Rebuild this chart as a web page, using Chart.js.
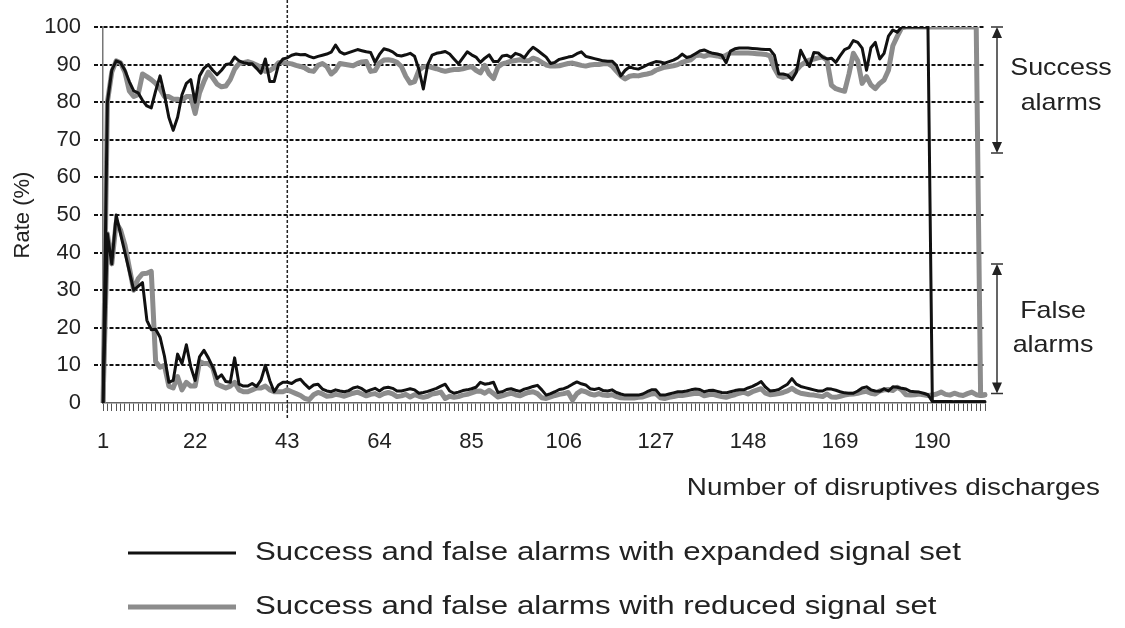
<!DOCTYPE html>
<html>
<head>
<meta charset="utf-8">
<title>Success and false alarms</title>
<script src="https://cdn.jsdelivr.net/npm/chart.js@4.4.1/dist/chart.umd.min.js"></script>
<style>
    html, body { margin: 0; padding: 0; background: #fff; }
</style>
</head>
<body>
<canvas id="alarmChart" width="1125" height="628"></canvas>
<script>
// Discharge numbers on the x axis (1..202) and the ones that get a label
const categories = Array.from({ length: 202 }, (_, i) => i + 1);
const tickLabels = [1, 22, 43, 64, 85, 106, 127, 148, 169, 190];

// Success alarm rate (%) - expanded signal set
const successExpanded = [
    0, 80, 88.5, 91, 90.5, 88.5, 85.5, 83, 82.5, 80.5,
    79, 78.5, 83, 87, 82, 76, 72.5, 76, 82, 85,
    86, 80, 87, 89, 90, 88.5, 87.3, 88.5, 90, 90.2,
    92, 91, 90.5, 90.3, 90.2, 89, 87.7, 91.5, 85.5, 85.5,
    90, 91.5, 91.8, 92.5, 92.8, 92.6, 92.7, 92.2, 91.8, 92.2,
    92.5, 92.8, 93.3, 95.2, 93.4, 92.8, 93.2, 93.6, 94, 93.7,
    93.4, 93.2, 90.6, 92.7, 94.2, 93.9, 93.4, 92.5, 92.3, 92.6,
    93, 92.2, 88.7, 83.5, 90, 92.5, 93, 93.2, 93.5, 92.8,
    91.5, 90.2, 91.8, 93.4, 92.6, 92, 90.6, 91.7, 92.6, 90.8,
    90.8, 92.3, 92.5, 91.9, 93, 92.6, 91.8, 93.4, 94.6, 93.8,
    92.9, 92, 90.3, 90.6, 91.4, 91.7, 92, 92.2, 92.9, 93.4,
    92.2, 91.9, 91.6, 91.3, 91, 90.9, 90.9, 89.8, 87, 88.5,
    89.4, 89, 88.8, 89.3, 89.9, 90.4, 90.8, 90.7, 90.4, 90.8,
    91.2, 91.8, 92.8, 91.9, 92.2, 92.9, 93.6, 93.9, 93.4, 93,
    92.8, 92.5, 90.5, 93.6, 94.2, 94.4, 94.4, 94.4, 94.3, 94.2,
    94.1, 94, 94, 92.5, 87.5, 87.5, 87.2, 86, 88, 93.8,
    91.5, 89.5, 93.2, 93.1, 92, 91.5, 91.7, 90.6, 92.4, 94,
    94.5, 96.4, 95.9, 94.4, 88.5, 94.5, 95.9, 91.5, 93, 97.6,
    99.2, 98.6, 100, 100, 100, 100, 100, 100, 100, 0.5,
    0.4, 0.4, 0.4, 0.4, 0.3, 0.3, 0.3, 0.3, 0.3, 0.3,
    0.3, 0.3
];

// Success alarm rate (%) - reduced signal set
const successReduced = [
    0, 80, 88, 91, 90.5, 88, 83, 81.5, 82, 87.5,
    86.8, 86, 85, 83.5, 81.5, 81.5, 80.8, 80.8, 80.5, 81.5,
    81.5, 77, 82.5, 85.5, 88, 86.5, 84.8, 84.1, 84.3, 86,
    88.8, 90.3, 90.5, 90.8, 90.4, 89.9, 89.3, 88.2, 88.4, 89.2,
    90.5, 90.6, 90.4, 90.2, 89.8, 89.5, 89.1, 88.4, 88.2, 89.8,
    90.3, 89.5, 87.5, 88.5, 90.3, 90.1, 89.9, 89.7, 90.3, 90.7,
    90.8, 88.2, 88.4, 90.4, 91.2, 91.3, 91.1, 90.6, 89.5, 86.9,
    85.1, 85.5, 88.5, 89.4, 89.6, 89.2, 88.9, 88.5, 88.2, 88.5,
    88.7, 88.7, 88.9, 89.2, 89.5, 88.5, 87.8, 89.8, 87.5, 86.3,
    89.4, 90.2, 90.5, 90.9, 91.1, 91.3, 91.1, 91, 91.7, 91.3,
    90.6, 89.9, 89.6, 89.6, 89.7, 90, 90.3, 90.4, 90.1, 89.8,
    89.6, 89.9, 90, 90, 90.2, 90.3, 89.6, 88.3, 87, 86.2,
    86.9, 87.1, 87, 87.3, 87.5, 87.8, 88.5, 88.9, 89.3, 89.5,
    89.7, 90, 90.6, 91, 91.3, 92.4, 92.5, 92.2, 92.6, 92.5,
    92.3, 92, 92.5, 93.1, 93.1, 93.1, 93.1, 93.1, 93, 92.9,
    92.8, 92.7, 92.3, 89, 87, 86.6, 86.8, 87.5, 88.5, 89.8,
    90.6, 91.2, 91.5, 91.8, 92, 91.2, 84.5, 83.6, 83.2, 82.9,
    87.5, 93, 91, 85, 86.8, 84.6, 83.6, 85, 85.9, 88.5,
    95, 97.5, 99.8, 100, 100, 100, 100, 100, 100, 100,
    100, 100, 100, 100, 100, 100, 100, 100, 100, 100,
    2, 2.2
];

// False alarm rate (%) - expanded signal set
const falseExpanded = [
    0, 45, 37, 50, 45, 40, 35, 30, 31, 32,
    22, 19.5, 19.6, 17.5, 12.5, 5.5, 6, 13, 10.5, 15.5,
    9.6, 6, 12.3, 14, 12, 9.6, 6.5, 7.5, 5.7, 5.5,
    12, 5, 4.5, 4.5, 5.2, 4.4, 6.1, 10, 6, 3,
    4.8, 5.5, 5.5, 5.2, 6, 6.3, 5, 3.9, 4.8, 5,
    3.7, 3.2, 3, 3.5, 3.2, 3, 3.3, 4, 4.3, 3.8,
    3, 3.5, 3.9, 3.2, 4, 4.2, 3.9, 3.2, 3.2, 3.5,
    3.8, 3.5, 2.6, 2.8, 3.1, 3.5, 3.9, 4.5, 5, 3.2,
    2.6, 2.9, 3.3, 3.5, 3.8, 4.2, 5.5, 5, 5.2, 5.5,
    2.8, 3, 3.6, 3.8, 3.4, 3.1, 3.7, 4, 4.4, 4.7,
    3.5, 2.1, 2.5, 3, 3.6, 3.8, 4.3, 5, 5.6, 5.1,
    4.8, 3.8, 3.6, 3.9, 3.3, 3.2, 3.5, 2.8, 2.4, 2.1,
    2.1, 2.1, 2.1, 2.4, 3, 3.5, 3.5, 2.1, 2.1, 2.4,
    2.7, 3, 3, 3.2, 3.5, 3.7, 3.6, 3, 3.3, 3.4,
    3.1, 2.8, 2.7, 3, 3.3, 3.5, 3.5, 4, 4.4, 5,
    5.7, 4.2, 3.2, 3.3, 3.6, 4.3, 5, 6.5, 5, 4.4,
    4.1, 3.8, 3.5, 3.2, 3.2, 3.8, 3.7, 3.4, 3, 2.7,
    2.6, 2.6, 3.2, 4, 4.3, 3.5, 3.2, 3.1, 3.8, 3.2,
    4.3, 4.2, 3.9, 3.7, 3.1, 3, 2.9, 2.6, 2.2, 0.4,
    0.4, 0.4, 0.4, 0.4, 0.3, 0.3, 0.3, 0.3, 0.3, 0.3,
    0.3, 0.3
];

// False alarm rate (%) - reduced signal set
const falseReduced = [
    0, 45, 37, 48, 46, 42, 36, 30, 33, 34.4,
    34.5, 35, 11, 9.5, 10, 4.5, 4, 7, 3.5, 5.5,
    4.5, 4.5, 11, 10.5, 10.5, 9.5, 5, 4.5, 4, 4.5,
    5.5, 3.5, 3, 3, 3.5, 4, 4, 4.5, 3.5, 3,
    3, 3, 3.5, 3, 2.5, 2, 1.2, 0.9, 2.2, 2.8,
    2.4, 1.8, 1.9, 2.3, 2.1, 1.8, 2.2, 2.6, 2.9, 2.4,
    1.9, 2.3, 2.5, 1.9, 2.5, 2.8, 2.4, 1.7, 1.9, 2.3,
    1.6, 2.2, 1.8, 1.5, 1.8, 2.4, 2.6, 2.9, 1.2, 1.8,
    1.5, 1.7, 2.1, 2.3, 2.7, 3.1, 3.2, 2.6, 3.4, 2.5,
    1.6, 1.9, 2.3, 2.6, 2.2, 1.9, 2.4, 2.8, 3, 2.5,
    1.4, 1.2, 1.6, 2, 2.3, 2.5, 2.8, 0.8, 2.5, 3.3,
    3, 2.4, 2.1, 2.5, 2.1, 2, 2.2, 1.7, 1.4, 1.3,
    1.4, 1.3, 1.5, 1.6, 2, 2.4, 2.5, 1.4, 1.2, 1.5,
    1.7, 2, 2, 2.2, 2.4, 2.6, 2.5, 1.9, 2.2, 2.3,
    2, 1.7, 1.5, 1.9, 2.2, 2.6, 2.9, 2.4, 3, 3.4,
    3.8, 2.6, 2.2, 2.3, 2.5, 2.8, 3.2, 3.9, 3.1, 2.6,
    2.4, 2.2, 2.1, 1.9, 1.7, 2.4, 1.6, 1.5, 1.8, 2.1,
    2.3, 2.4, 2.6, 2.9, 3.1, 2.6, 2.4, 3.2, 3.5, 3.6,
    3.3, 4.2, 3.5, 2.2, 2.1, 2.2, 2.4, 2.2, 2, 2.1,
    2.4, 2.9, 2.3, 2.1, 2.6, 2.2, 2, 2.5, 2.9, 2.2,
    2, 2.2
];

const legendLabels = [
    'Success and false alarms with expanded signal set',
    'Success and false alarms with reduced signal set'
];
const markerDischarge = 43;        // dashed vertical marker
const successSpan = [100, 66.5];   // arrow span for "Success alarms"
const falseSpan = [37, 2.5];       // arrow span for "False alarms"

const FONT = '"Liberation Sans", Arial, sans-serif';
const TEXT = '#222';
const BLACK = '#111';
const GREY = '#8c8c8c';

// The reference lettering is a bit wider than Liberation Sans, so stretch it sideways
function wideText(ctx, text, x, y, size, stretch, align) {
    ctx.save();
    ctx.font = size + 'px ' + FONT;
    ctx.textAlign = align;
    ctx.textBaseline = 'middle';
    ctx.translate(x, y);
    ctx.scale(stretch, 1);
    ctx.fillText(text, 0, 0);
    ctx.restore();
}

// Vertical double arrow with small end caps
function drawDoubleArrow(ctx, x, yTop, yBottom) {
    ctx.save();
    ctx.strokeStyle = '#333';
    ctx.fillStyle = '#222';
    ctx.lineWidth = 1.5;
    ctx.beginPath();
    ctx.moveTo(x, yTop + 4);
    ctx.lineTo(x, yBottom - 4);
    ctx.moveTo(x - 6, yTop);
    ctx.lineTo(x + 6, yTop);
    ctx.moveTo(x - 6, yBottom);
    ctx.lineTo(x + 6, yBottom);
    ctx.stroke();
    ctx.beginPath(); // top head
    ctx.moveTo(x, yTop);
    ctx.lineTo(x - 5, yTop + 11);
    ctx.lineTo(x + 5, yTop + 11);
    ctx.closePath();
    ctx.fill();
    ctx.beginPath(); // bottom head
    ctx.moveTo(x, yBottom);
    ctx.lineTo(x - 5, yBottom - 11);
    ctx.lineTo(x + 5, yBottom - 11);
    ctx.closePath();
    ctx.fill();
    ctx.restore();
}

const overlayPlugin = {
    id: 'overlay',
    beforeDatasetsDraw(chart) {
        const { ctx, chartArea, scales: { x } } = chart;
        const px = x.getPixelForValue(categories.indexOf(markerDischarge));
        ctx.save();
        ctx.strokeStyle = '#222';
        ctx.lineWidth = 1.5;
        ctx.setLineDash([3, 2]);
        ctx.beginPath();
        ctx.moveTo(px, 0);
        ctx.lineTo(px, chartArea.bottom + 16);
        ctx.stroke();
        ctx.restore();
    },
    afterDraw(chart) {
        const { ctx, chartArea, scales: { y } } = chart;
        const arrowX = chartArea.right + 12;
        drawDoubleArrow(ctx, arrowX, y.getPixelForValue(successSpan[0]), y.getPixelForValue(successSpan[1]));
        drawDoubleArrow(ctx, arrowX, y.getPixelForValue(falseSpan[0]), y.getPixelForValue(falseSpan[1]));

        ctx.save();
        ctx.fillStyle = TEXT;
        wideText(ctx, 'Success', chartArea.right + 76, y.getPixelForValue(89.1), 24, 1.12, 'center');
        wideText(ctx, 'alarms', chartArea.right + 76, y.getPixelForValue(79.8), 24, 1.12, 'center');
        wideText(ctx, 'False', chartArea.right + 68, y.getPixelForValue(24.3), 24, 1.12, 'center');
        wideText(ctx, 'alarms', chartArea.right + 68, y.getPixelForValue(15.4), 24, 1.12, 'center');

        // x axis title, right aligned past the plot
        wideText(ctx, 'Number of disruptives discharges', chartArea.right + 115, chartArea.bottom + 85, 24, 1.16, 'right');

        // legend: two rows under the chart
        const colors = [BLACK, GREY];
        const widths = [3, 5];
        legendLabels.forEach((label, i) => {
            const rowY = chartArea.bottom + 150 + i * 54;
            ctx.strokeStyle = colors[i];
            ctx.lineWidth = widths[i];
            ctx.beginPath();
            ctx.moveTo(128, rowY);
            ctx.lineTo(236, rowY);
            ctx.stroke();
            wideText(ctx, label, 255, rowY, 26, 1.2, 'left');
        });
        ctx.restore();
    }
};

function lineSet(label, data, color, width) {
    return {
        label: label,
        data: data,
        borderColor: color,
        backgroundColor: color,
        borderWidth: width,
        pointRadius: 0,
        tension: 0,
        borderJoinStyle: 'round',
        borderCapStyle: 'round',
        fill: false
    };
}

const ctx = document.getElementById('alarmChart').getContext('2d');
new Chart(ctx, {
    type: 'line',
    data: {
        labels: categories,
        datasets: [
            lineSet('Success alarms, expanded signal set', successExpanded, BLACK, 3),
            lineSet('False alarms, expanded signal set', falseExpanded, BLACK, 3),
            lineSet('Success alarms, reduced signal set', successReduced, GREY, 5),
            lineSet('False alarms, reduced signal set', falseReduced, GREY, 5)
        ]
    },
    options: {
        responsive: false,
        animation: false,
        devicePixelRatio: 1,
        layout: { padding: { top: 27, right: 140, bottom: 0, left: 0 } },
        plugins: {
            legend: { display: false },
            tooltip: { enabled: false }
        },
        scales: {
            x: {
                type: 'category',
                afterFit: (scale) => { scale.height = 225; },
                grid: {
                    display: true,
                    drawOnChartArea: false,
                    drawTicks: true,
                    tickLength: 8,
                    tickColor: '#555',
                    tickWidth: 1
                },
                border: { display: true, color: '#666', width: 1.5 },
                ticks: {
                    autoSkip: false,
                    maxRotation: 0,
                    minRotation: 0,
                    padding: 18,
                    color: TEXT,
                    font: { family: FONT, size: 22 },
                    callback: (value, index) => tickLabels.includes(categories[index]) ? String(categories[index]) : ''
                }
            },
            y: {
                min: 0,
                max: 100,
                afterFit: (scale) => { scale.width = 103; },
                grid: {
                    color: (c) => (c.tick && c.tick.value === 0) ? 'rgba(0,0,0,0)' : '#111',
                    lineWidth: 2,
                    tickLength: 9,
                    tickBorderDash: [4, 2]
                },
                border: { display: true, color: '#777', width: 1.5, dash: [4, 2] },
                ticks: {
                    stepSize: 10,
                    padding: 13,
                    color: TEXT,
                    font: { family: FONT, size: 22 }
                },
                title: {
                    display: true,
                    text: 'Rate (%)',
                    color: TEXT,
                    font: { family: FONT, size: 22 },
                    padding: { top: 10, bottom: 0 }
                }
            }
        }
    },
    plugins: [overlayPlugin]
});
</script>
</body>
</html>
